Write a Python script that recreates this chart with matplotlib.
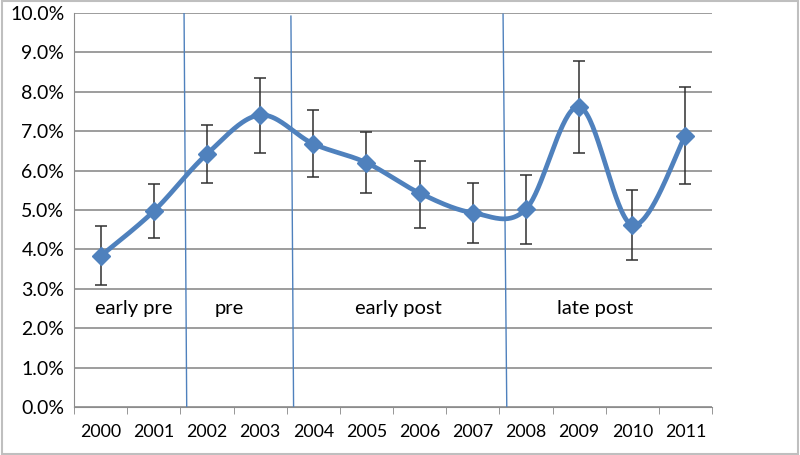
import matplotlib
matplotlib.use("Agg")
import matplotlib.pyplot as plt
import numpy as np
from matplotlib.patches import Rectangle

years = ["2000", "2001", "2002", "2003", "2004", "2005",
         "2006", "2007", "2008", "2009", "2010", "2011"]
rate = [3.83, 4.97, 6.42, 7.41, 6.68, 6.20, 5.43, 4.93, 5.02, 7.62, 4.62, 6.89]
err_hi = [4.59, 5.66, 7.16, 8.35, 7.55, 6.98, 6.25, 5.69, 5.88, 8.78, 5.51, 8.12]
err_lo = [3.10, 4.29, 5.69, 6.45, 5.83, 5.42, 4.55, 4.17, 4.13, 6.45, 3.73, 5.65]

# period separators (slightly slanted hand-drawn lines): x at bottom, x at top, top y
sep_bottom = [1.62, 3.63, 7.64]
sep_top = [1.57, 3.58, 7.57]
sep_top_y = [10.0, 9.92, 9.97]

periods = ["early pre", "pre", "early post", "late post"]
period_x = [0.62, 2.42, 5.6, 9.3]
period_y = [2.5, 2.5, 2.5, 2.5]

blue = "#4F81BD"
plt.rcParams['font.family'] = ['Lato', 'DejaVu Sans']

fig = plt.figure(figsize=(8, 4.55), dpi=100)
ax = fig.add_axes([74/800, 1 - 407/455, (712-74)/800, (407-13)/455])

x = np.arange(len(years))
y = np.array(rate)

# Excel-style smoothed line (Bezier through points)
sx, sy = [], []
n = len(x)
for i in range(n - 1):
    p0 = np.array([x[max(i-1, 0)], y[max(i-1, 0)]])
    p1 = np.array([x[i], y[i]])
    p2 = np.array([x[i+1], y[i+1]])
    p3 = np.array([x[min(i+2, n-1)], y[min(i+2, n-1)]])
    c1 = p1 + (p2 - p0) / 6
    c2 = p2 - (p3 - p1) / 6
    t = np.linspace(0, 1, 40)[:, None]
    pts = (1-t)**3*p1 + 3*(1-t)**2*t*c1 + 3*(1-t)*t**2*c2 + t**3*p2
    sx.extend(pts[:, 0]); sy.extend(pts[:, 1])

ax.plot(sx, sy, color=blue, lw=3.4, zorder=3, solid_capstyle='round')
ax.errorbar(x, y, yerr=[y - np.array(err_lo), np.array(err_hi) - y], fmt='none',
            ecolor="#303030", elinewidth=1.1, capsize=4, capthick=1.1, zorder=4)
ax.plot(x, y, 'D', color=blue, ms=9, zorder=5)

for xb, xt, yt in zip(sep_bottom, sep_top, sep_top_y):
    ax.plot([xb, xt], [0, yt], color=blue, lw=1, zorder=2)

for lab, px, py in zip(periods, period_x, period_y):
    ax.text(px, py, lab, fontsize=14.5, ha='center', va='center', zorder=6)

ax.set_xlim(-0.5, 11.5)
ax.set_ylim(0, 10)
ax.set_yticks(np.arange(0, 11, 1))
ax.set_yticklabels(["%.1f%%" % v for v in np.arange(0, 11, 1)], fontsize=14)
ax.set_xticks(x)
ax.set_xticklabels(years, fontsize=12.8)
ax.set_xticks(np.arange(-0.5, 12, 1), minor=True)
ax.tick_params(axis='x', which='major', length=0, pad=12)
ax.tick_params(axis='x', which='minor', length=5, color="#868686")
ax.tick_params(axis='y', length=0, pad=7)
ax.grid(axis='y', color="#8C8C8C", lw=1.2)
ax.set_axisbelow(True)
for s in ['top', 'right']:
    ax.spines[s].set_visible(False)
ax.spines['left'].set_color("#8C8C8C")
ax.spines['bottom'].set_color("#8C8C8C")

fig.patches.append(Rectangle((0.002, 0.003), 0.996, 0.994, transform=fig.transFigure,
                             fill=False, edgecolor="#BFBFBF", lw=1.5))

fig.savefig("out.png", dpi=100)
